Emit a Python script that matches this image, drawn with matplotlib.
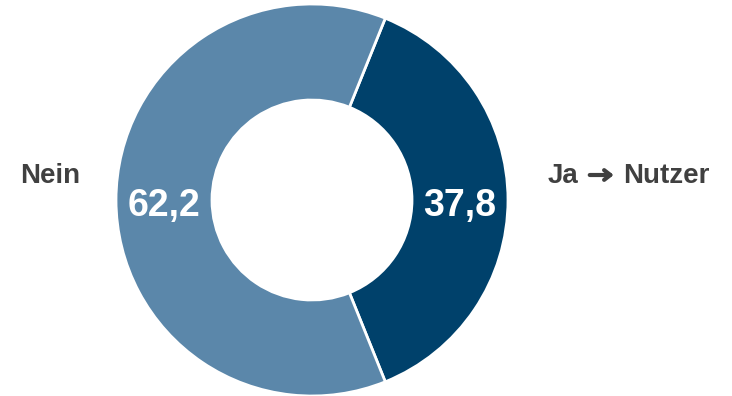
import numpy as np
import matplotlib.pyplot as plt

plt.rcParams['font.family'] = ['Liberation Sans', 'DejaVu Sans']

labels = ["Ja", "Nutzer", "Nein"]  # "Ja -> Nutzer" is drawn in three pieces
values = [37.8, 62.2]
colors = ["#00416b", "#5b87aa"]
grey = "#404040"

fig = plt.figure(figsize=(7.32, 3.96), dpi=100)
ax = fig.add_axes([0, 0, 1, 1])

cx, cy, r_out, r_in = 312, 196, 196, 100
start = 360 * values[0] / 200  # center the "Ja" wedge on the right

wedges, _ = ax.pie(values, colors=colors, startangle=start, counterclock=False,
                   center=(cx, cy), radius=r_out,
                   wedgeprops=dict(width=r_out - r_in, edgecolor="white", linewidth=2))

# pie resets the limits, so set the pixel frame afterwards
ax.set_xlim(0, 732)
ax.set_ylim(0, 396)
ax.set_aspect("equal")
ax.axis("off")

r_mid = (r_out + r_in) / 2
for w, v in zip(wedges, values):
    ang = np.deg2rad((w.theta1 + w.theta2) / 2)
    ax.text(cx + r_mid * np.cos(ang), cy + r_mid * np.sin(ang) - 6,
            f"{v:.1f}".replace(".", ","), ha="center", va="center",
            color="white", fontsize=27, fontweight="bold")

gap = 40
ly = 220
fs = 20
ax.text(cx - r_out - gap + 4, ly, labels[2], ha="right", va="center",
        fontsize=fs, fontweight="bold", color=grey)

# right label: Ja, a line arrow, Nutzer
fig.canvas.draw()
rend = fig.canvas.get_renderer()
t1 = ax.text(cx + r_out + gap, ly, labels[0], ha="left", va="center",
             fontsize=fs, fontweight="bold", color=grey)
x1 = ax.transData.inverted().transform(t1.get_window_extent(rend))[1][0]
ax.annotate("", xy=(x1 + 35, ly + 1), xytext=(x1 + 11, ly + 1),
            arrowprops=dict(arrowstyle="->,head_length=0.45,head_width=0.35",
                            lw=3, color=grey, shrinkA=0, shrinkB=0))
ax.text(x1 + 44, ly, labels[1], ha="left", va="center",
        fontsize=fs, fontweight="bold", color=grey)

fig.savefig("out.png", dpi=100)
